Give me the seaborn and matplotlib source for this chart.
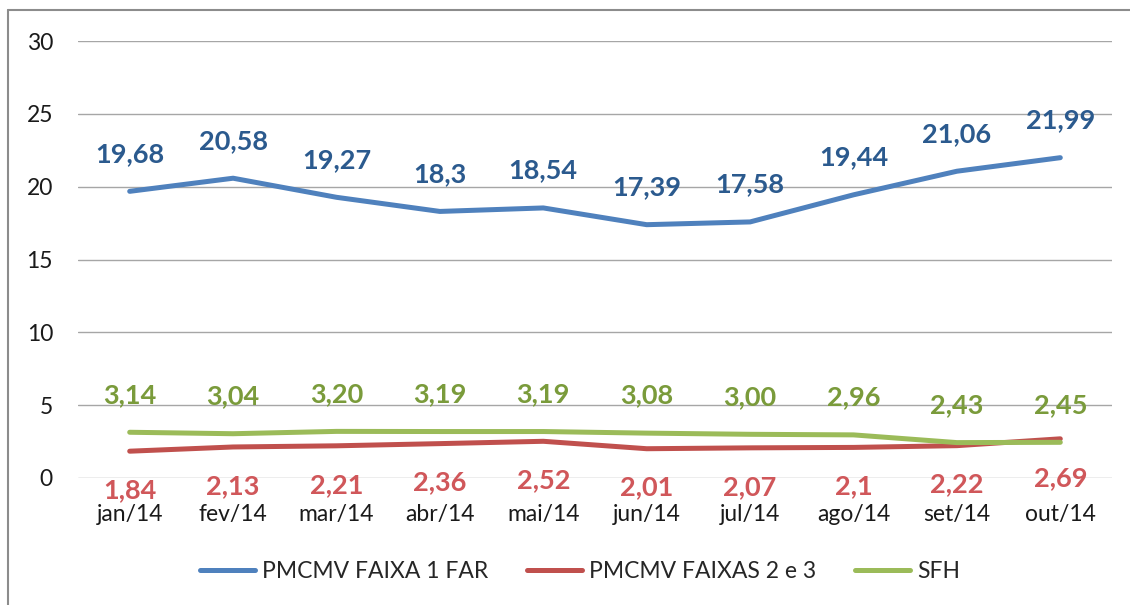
import matplotlib
matplotlib.use("Agg")
import matplotlib.pyplot as plt
from matplotlib.lines import Line2D
import pandas as pd
import seaborn as sns

# Data
months = ["jan/14", "fev/14", "mar/14", "abr/14", "mai/14",
          "jun/14", "jul/14", "ago/14", "set/14", "out/14"]
faixa1 = [19.68, 20.58, 19.27, 18.30, 18.54, 17.39, 17.58, 19.44, 21.06, 21.99]
faixa23 = [1.84, 2.13, 2.21, 2.36, 2.52, 2.01, 2.07, 2.10, 2.22, 2.69]
sfh = [3.14, 3.04, 3.20, 3.19, 3.19, 3.08, 3.00, 2.96, 2.43, 2.45]

# labels as they appear in the chart
faixa1_lbl = ["19,68", "20,58", "19,27", "18,3", "18,54", "17,39", "17,58", "19,44", "21,06", "21,99"]
faixa23_lbl = ["1,84", "2,13", "2,21", "2,36", "2,52", "2,01", "2,07", "2,1", "2,22", "2,69"]
sfh_lbl = ["3,14", "3,04", "3,20", "3,19", "3,19", "3,08", "3,00", "2,96", "2,43", "2,45"]

series_names = ["PMCMV FAIXA 1 FAR", "PMCMV FAIXAS 2 e 3", "SFH"]
line_colors = ["#4F81BD", "#C0504D", "#9BBB59"]
label_colors = ["#2B5A8E", "#D0575A", "#7A9B3B"]

df = pd.DataFrame({
    "mes": months * 3,
    "valor": faixa1 + faixa23 + sfh,
    "serie": [series_names[0]] * 10 + [series_names[1]] * 10 + [series_names[2]] * 10,
})

sns.set_style("white")
plt.rcParams["font.family"] = ["Lato", "DejaVu Sans"]

fig = plt.figure(figsize=(11.3, 6.05), dpi=100)
ax = fig.add_axes([78 / 1130, 1 - 478 / 605, (1112 - 78) / 1130, (478 - 41) / 605])

sns.lineplot(data=df, x="mes", y="valor", hue="serie", palette=line_colors,
             linewidth=3.6, sort=False, ax=ax, legend=False)

ax.set_xlim(-0.5, 9.5)
ax.set_ylim(0, 30)
ax.set_yticks([0, 5, 10, 15, 20, 25, 30])
ax.set_xlabel("")
ax.set_ylabel("")
ax.grid(axis="y", color="#A6A6A6", linewidth=1)
ax.set_axisbelow(True)
for s in ax.spines.values():
    s.set_visible(False)
ax.tick_params(axis="y", length=0, pad=18, labelsize=16.5, labelcolor="#1A1A1A")
ax.tick_params(axis="x", length=0, pad=19, labelsize=16.5, labelcolor="#1A1A1A")

# data labels
for vals, lbls, col, off in [(faixa1, faixa1_lbl, label_colors[0], 27),
                             (sfh, sfh_lbl, label_colors[2], 27),
                             (faixa23, faixa23_lbl, label_colors[1], -28)]:
    for i, (v, t) in enumerate(zip(vals, lbls)):
        ax.annotate(t, (i, v), xytext=(0, off), textcoords="offset points",
                    ha="center", va="center", fontsize=19.5, fontweight="bold",
                    color=col, annotation_clip=False)

handles = [Line2D([0], [0], color=c, linewidth=3.6) for c in line_colors]
fig.legend(handles, series_names, loc="center", bbox_to_anchor=(580 / 1130, 1 - 572 / 605),
           ncol=3, frameon=False, fontsize=16.5, handlelength=2.4, columnspacing=1.7,
           handletextpad=0.3)

# outer chart border (left and top edges visible)
fig.add_artist(Line2D([8 / 1130, 8 / 1130], [0, 1 - 10 / 605], transform=fig.transFigure,
                      color="#8C8C8C", linewidth=1.5))
fig.add_artist(Line2D([8 / 1130, 1], [1 - 10 / 605, 1 - 10 / 605], transform=fig.transFigure,
                      color="#8C8C8C", linewidth=1.5))

fig.savefig("out.png", dpi=100)
